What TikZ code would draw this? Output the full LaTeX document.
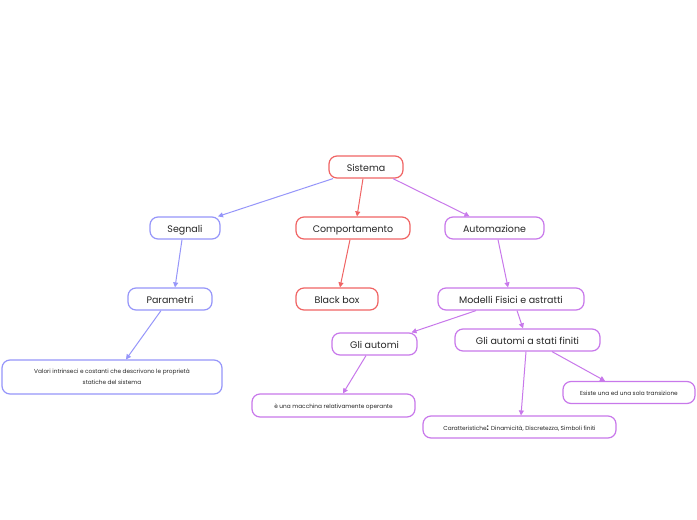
\documentclass[tikz,border=0pt]{standalone}
\usepackage{fontspec}
\setmainfont{Poppins}
\usetikzlibrary{arrows.meta}
\definecolor{cred}{RGB}{240,100,100}
\definecolor{cblue}{RGB}{150,150,250}
\definecolor{cpurp}{RGB}{200,120,235}
\tikzset{
  box/.style={draw, line width=1.2pt, rounded corners=8pt, fill=white, inner sep=0pt, align=center, text=black!85},
  big/.style={box, minimum height=22pt, text height=10pt, text depth=1pt, font=\fontsize{9.5}{11}\selectfont},
  small/.style={box, minimum height=22pt, text height=6.5pt, text depth=0.5pt, font=\fontsize{5.8}{10.5}\selectfont},
  conn/.style={line width=1pt, -{Triangle[length=5pt,width=5pt]}},
}
\begin{document}
\begin{tikzpicture}[x=1pt,y=-1pt]
\useasboundingbox[fill=white] (0,0) rectangle (697,520);
\node[big, draw=cred, minimum width=74pt] (sis) at (366,167) {Sistema};
\node[big, draw=cblue, minimum width=70pt] (seg) at (185,228) {Segnali};
\node[big, draw=cred, minimum width=114pt] (com) at (353,228) {Comportamento};
\node[big, draw=cpurp, minimum width=99pt] (aut) at (494.5,228) {Automazione};
\node[big, draw=cblue, minimum width=84pt] (par) at (170,299) {Parametri};
\node[big, draw=cred, minimum width=82pt] (bb) at (337,299) {Black box};
\node[big, draw=cpurp, minimum width=146pt] (mod) at (511,299) {Modelli Fisici e astratti};
\node[big, draw=cpurp, minimum width=85pt] (ga) at (374.5,344) {Gli automi};
\node[big, draw=cpurp, minimum width=145pt] (gas) at (527.5,340) {Gli automi a stati finiti};
\node[box, draw=cblue, minimum width=220pt, minimum height=34pt, font=\fontsize{5.8}{10.5}\selectfont] (val) at (112,377) {\rule{0pt}{3pt}Valori intrinseci e costanti che descrivono le proprietà\\statiche del sistema};
\node[small, draw=cpurp, minimum width=163pt, minimum height=23pt] (mac) at (333.5,405.5) {è una macchina relativamente operante};
\node[small, draw=cpurp, minimum width=132pt] (esi) at (629,392.5) {Esiste una ed una sola transizione};
\node[small, draw=cpurp, minimum width=193pt] (car) at (519.5,427) {Caratteristiche{\fontsize{8}{10}\selectfont\textbf{:}} Dinamicità, Discretezza, Simboli finiti};
\draw[conn, cblue] ([xshift=-33pt]sis.south) -- ([xshift=33pt]seg.north);
\draw[conn, cred] ([xshift=-3pt]sis.south) -- ([xshift=4pt]com.north);
\draw[conn, cpurp] ([xshift=27pt]sis.south) -- ([xshift=-25pt]aut.north);
\draw[conn, cblue] ([xshift=-3pt]seg.south) -- ([xshift=5pt]par.north);
\draw[conn, cred] ([xshift=-3pt]com.south) -- ([xshift=3pt]bb.north);
\draw[conn, cpurp] ([xshift=3.5pt]aut.south) -- ([xshift=-3pt]mod.north);
\draw[conn, cblue] ([xshift=-9pt]par.south) -- ([xshift=14pt]val.north);
\draw[conn, cpurp] ([xshift=-35pt]mod.south) -- ([xshift=37pt]ga.north);
\draw[conn, cpurp] ([xshift=6pt]mod.south) -- ([xshift=-4.5pt]gas.north);
\draw[conn, cpurp] ([xshift=-8.5pt]ga.south) -- ([xshift=9.5pt]mac.north);
\draw[conn, cpurp] ([xshift=-1.5pt]gas.south) -- ([xshift=1.5pt]car.north);
\draw[conn, cpurp] ([xshift=24.5pt]gas.south) -- ([xshift=-24pt]esi.north);
\end{tikzpicture}
\end{document}
